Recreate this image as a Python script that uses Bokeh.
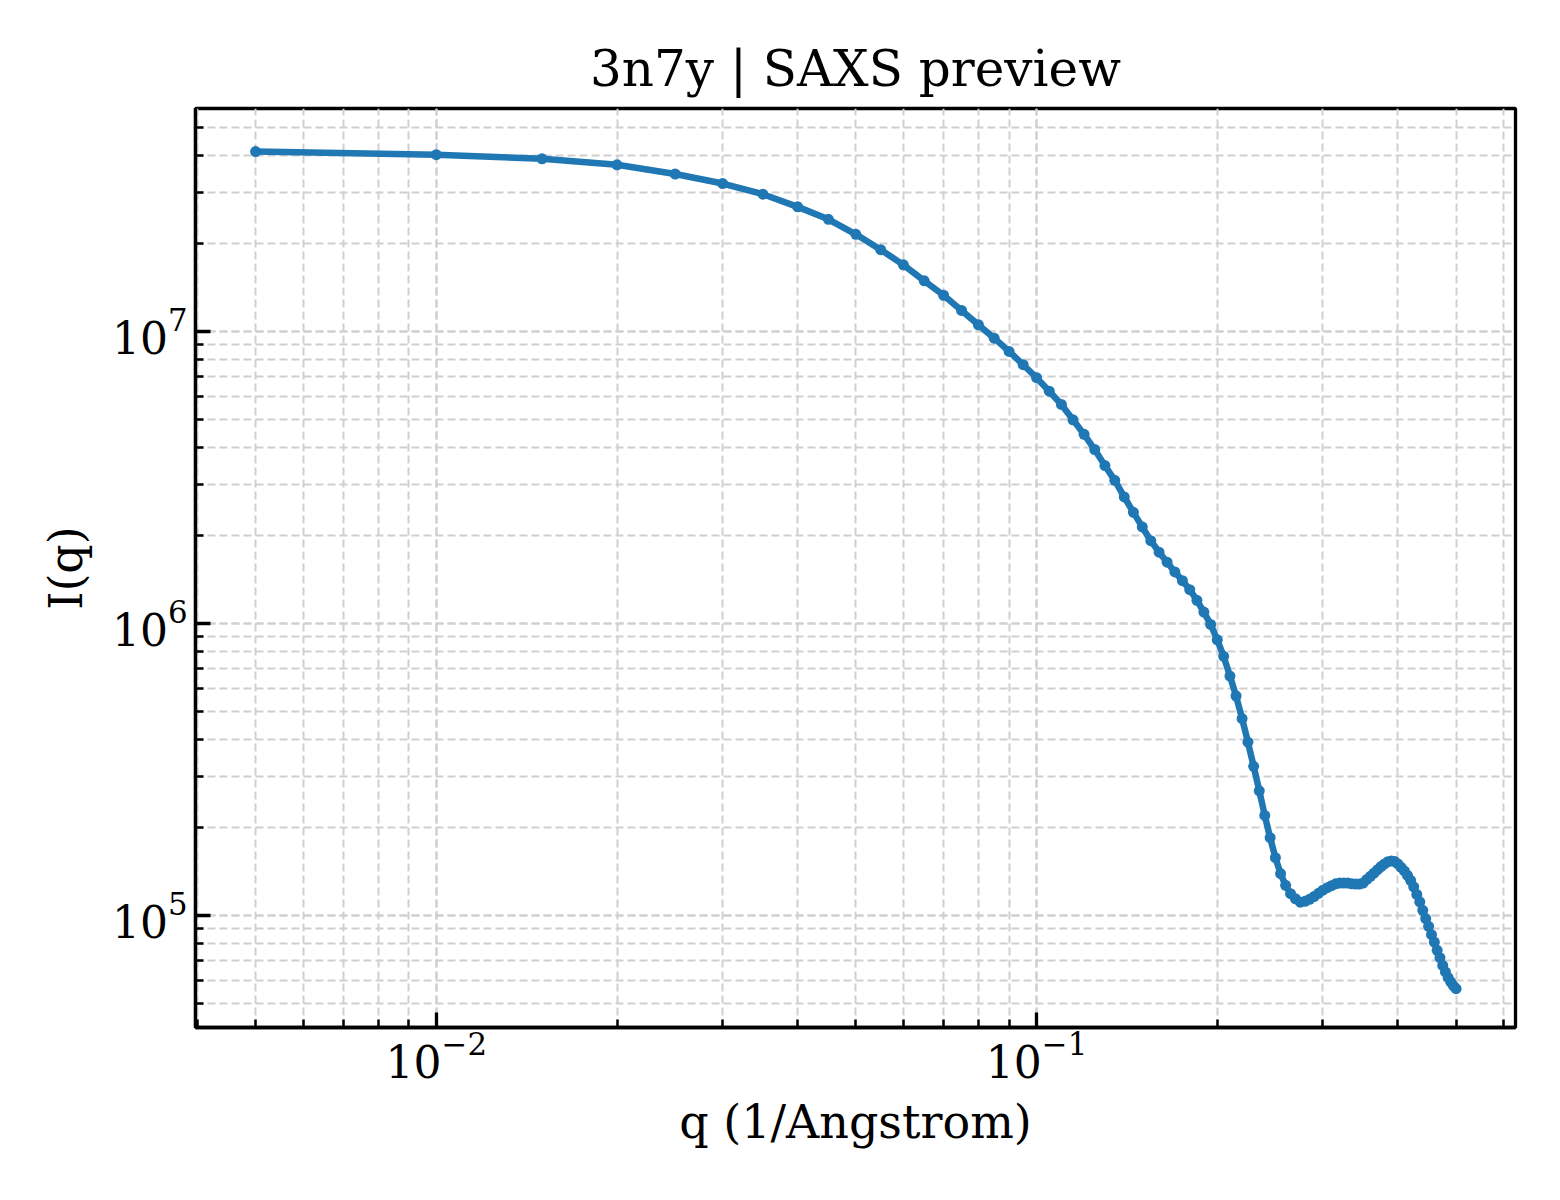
from bokeh.plotting import figure
from bokeh.models import LogTicker
from bokeh.embed import file_html
from bokeh.resources import INLINE

# scattering vector q (1/Angstrom)
q = [0.005, 0.010, 0.015, 0.020, 0.025, 0.030, 0.035, 0.040, 0.045, 0.050,
     0.055, 0.060, 0.065, 0.070, 0.075, 0.080, 0.085, 0.090, 0.095, 0.100,
     0.105, 0.110, 0.115, 0.120, 0.125, 0.130, 0.135, 0.140, 0.145, 0.150,
     0.155, 0.160, 0.165, 0.170, 0.175, 0.180, 0.185, 0.190, 0.195, 0.200,
     0.205, 0.210, 0.215, 0.220, 0.225, 0.230, 0.235, 0.240, 0.245, 0.250,
     0.255, 0.260, 0.265, 0.270, 0.275, 0.280, 0.285, 0.290, 0.295, 0.300,
     0.305, 0.310, 0.315, 0.320, 0.325, 0.330, 0.335, 0.340, 0.345, 0.350,
     0.355, 0.360, 0.365, 0.370, 0.375, 0.380, 0.385, 0.390, 0.395, 0.400,
     0.405, 0.410, 0.415, 0.420, 0.425, 0.430, 0.435, 0.440, 0.445, 0.450,
     0.455, 0.460, 0.465, 0.470, 0.475, 0.480, 0.485, 0.490, 0.495, 0.500]

# intensity I(q)
Iq = [4.13e7, 4.03e7, 3.90e7, 3.72e7, 3.46e7, 3.21e7, 2.95e7, 2.67e7, 2.42e7, 2.15e7,
      1.905e7, 1.69e7, 1.49e7, 1.33e7, 1.18e7, 1.054e7, 9.48e6, 8.54e6, 7.69e6, 6.94e6,
      6.24e6, 5.62e6, 4.98e6, 4.44e6, 3.94e6, 3.47e6, 3.09e6, 2.71e6, 2.40e6, 2.14e6,
      1.92e6, 1.754e6, 1.62e6, 1.50e6, 1.40e6, 1.305e6, 1.20e6, 1.093e6, 9.92e5, 8.79e5,
      7.71e5, 6.60e5, 5.64e5, 4.72e5, 3.92e5, 3.24e5, 2.67e5, 2.20e5, 1.845e5, 1.576e5,
      1.39e5, 1.267e5, 1.187e5, 1.14e5, 1.11e5, 1.117e5, 1.135e5, 1.16e5, 1.19e5, 1.22e5,
      1.244e5, 1.264e5, 1.283e5, 1.29e5, 1.29e5, 1.29e5, 1.283e5, 1.28e5, 1.28e5, 1.29e5,
      1.328e5, 1.36e5, 1.396e5, 1.434e5, 1.47e5, 1.50e5, 1.527e5, 1.535e5, 1.53e5, 1.50e5,
      1.46e5, 1.42e5, 1.37e5, 1.318e5, 1.252e5, 1.18e5, 1.112e5, 1.041e5, 9.75e4, 9.17e4,
      8.59e4, 8.1e4, 7.59e4, 7.16e4, 6.74e4, 6.4e4, 6.12e4, 5.91e4, 5.73e4, 5.61e4]

FONT = "DejaVu Serif"
BLUE = "#1f77b4"

p = figure(
    width=1552, height=1192,
    x_axis_type="log", y_axis_type="log",
    x_range=(0.00397, 0.628), y_range=(4.13e4, 5.8e7),
    title="3n7y | SAXS preview",
    x_axis_label="q (1/Angstrom)", y_axis_label="I(q)",
    output_backend="svg", toolbar_location=None,
    min_border_left=195, min_border_right=37,
    min_border_top=108, min_border_bottom=165)

p.line(q, Iq, line_color=BLUE, line_width=6.5)
p.scatter(q, Iq, size=11, fill_color=BLUE, line_color=None)

# title
p.title.align = "center"
p.title.text_font = FONT
p.title.text_font_size = "50px"
p.title.text_font_style = "normal"
p.title.text_color = "black"
p.title.standoff = 22

# frame
p.outline_line_color = "black"
p.outline_line_width = 3.3
p.outline_line_alpha = 1

for ax in (p.xaxis[0], p.yaxis[0]):
    ax.ticker = LogTicker(num_minor_ticks=10)
    ax.axis_line_width = 3.3
    ax.major_tick_in = 15
    ax.major_tick_out = 0
    ax.major_tick_line_width = 3.3
    ax.minor_tick_in = 8
    ax.minor_tick_out = 0
    ax.minor_tick_line_width = 2.5
    ax.major_label_text_font = FONT
    ax.major_label_text_font_size = "44px"
    ax.major_label_text_color = "black"
    ax.axis_label_text_font = FONT
    ax.axis_label_text_font_size = "46px"
    ax.axis_label_text_font_style = "normal"
    ax.axis_label_text_color = "black"

p.xaxis[0].major_label_standoff = 4
p.xaxis[0].axis_label_standoff = 14
p.yaxis[0].major_label_standoff = 8
p.yaxis[0].axis_label_standoff = 16

# grids: major and minor, dashed light grey
for g in (p.xgrid[0], p.ygrid[0]):
    g.grid_line_color = "#d0d0d0"
    g.grid_line_width = 2
    g.grid_line_dash = "8 4"
    g.minor_grid_line_color = "#d0d0d0"
    g.minor_grid_line_width = 2
    g.minor_grid_line_dash = "8 4"

open("out.html", "w").write(file_html(p, INLINE))
